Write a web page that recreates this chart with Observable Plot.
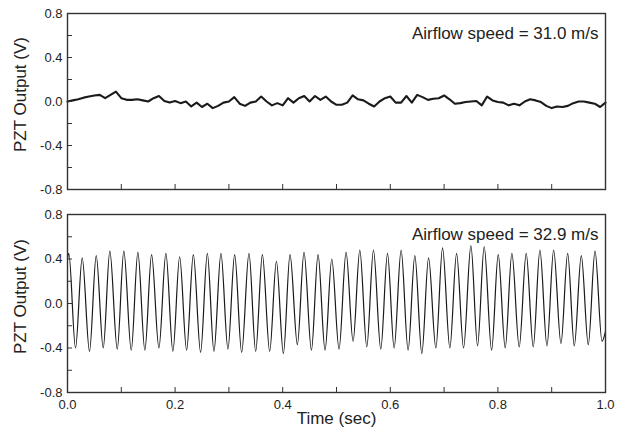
<!DOCTYPE html>
<html><head><meta charset="utf-8">
<script src="https://cdn.jsdelivr.net/npm/d3@7"></script>
<script src="https://cdn.jsdelivr.net/npm/@observablehq/plot@0.6"></script>
<style>body{margin:0;background:#fff;} #chart{width:620px;} svg{display:block;}</style>
</head><body><div id="chart"></div><script>
// ---- data ----
const topNote = "Airflow speed = 31.0 m/s";
const bottomNote = "Airflow speed = 32.9 m/s";
const yLabel = "PZT Output (V)";
const xLabel = "Time (sec)";
const xMajorTicks = [0, 0.2, 0.4, 0.6, 0.8, 1.0];
const xAllTicks = [0, 0.1, 0.2, 0.3, 0.4, 0.5, 0.6, 0.7, 0.8, 0.9, 1.0];
const yMajorTicks = [-0.8, -0.4, 0, 0.4, 0.8];
const yAllTicks = [-0.8, -0.6, -0.4, -0.2, 0, 0.2, 0.4, 0.6, 0.8];

// top panel (31.0 m/s): sampled every 0.01 s
const topInterval = 0.01;
const topVolt = [
  0.00, 0.01, 0.02, 0.035, 0.045, 0.055, 0.06, 0.03, 0.06, 0.09,
  0.03, 0.015, 0.015, 0.02, 0.01, 0.0, 0.03, 0.05, 0.005, -0.01,
  0.005, -0.015, 0.0, -0.045, -0.01, -0.05, -0.02, -0.06, -0.04, -0.01,
  0.0, 0.04, -0.02, -0.04, -0.01, 0.0, 0.045, 0.0, -0.035, -0.015,
  -0.035, 0.03, -0.01, 0.03, 0.05, 0.0, 0.05, 0.015, 0.045, 0.0,
  -0.03, -0.03, -0.01, 0.055, 0.02, 0.01, -0.02, -0.045, 0.0, 0.03,
  0.045, -0.01, -0.01, 0.05, -0.01, 0.06, 0.04, 0.015, 0.025, 0.03,
  0.055, 0.02, -0.02, -0.015, -0.005, 0.0, 0.005, -0.035, 0.045, 0.01,
  -0.005, -0.01, -0.035, -0.02, -0.035, 0.0, 0.02, 0.01, -0.005, -0.04,
  -0.06, -0.045, -0.05, -0.04, -0.015, 0.0, 0.0, -0.01, -0.02, -0.05,
  -0.01
];

// bottom panel (32.9 m/s): successive peaks and troughs
const waveTime = [
  0, 0.0024, 0.0149, 0.0273, 0.0409, 0.0534, 0.0664, 0.0787, 0.0925, 0.1047, 0.1185,
  0.1308, 0.1438, 0.1563, 0.1699, 0.1829, 0.1959, 0.2084, 0.2214, 0.2339, 0.2474,
  0.2599, 0.2722, 0.2852, 0.2982, 0.3107, 0.3237, 0.3373, 0.3498, 0.3622, 0.3758,
  0.3883, 0.4013, 0.4136, 0.4273, 0.4396, 0.4534, 0.4657, 0.4787, 0.4912, 0.5047,
  0.5178, 0.5308, 0.5433, 0.5563, 0.5687, 0.5823, 0.5948, 0.6071, 0.6201, 0.6331,
  0.6456, 0.6586, 0.6711, 0.6847, 0.6971, 0.7107, 0.7232, 0.7362, 0.7498, 0.7622,
  0.7745, 0.7883, 0.8006, 0.8136, 0.8260, 0.8396, 0.8526, 0.8657, 0.8781, 0.8912,
  0.9036, 0.9172, 0.9297, 0.9420, 0.9550, 0.9680, 0.9805, 0.9935, 1.0
];
const waveVolt = [
  0.40, 0.45, -0.40, 0.41, -0.43, 0.43, -0.40, 0.47, -0.41, 0.47, -0.42,
  0.46, -0.42, 0.44, -0.40, 0.45, -0.43, 0.42, -0.42, 0.44, -0.44,
  0.45, -0.43, 0.45, -0.41, 0.44, -0.44, 0.45, -0.43, 0.44, -0.43,
  0.38, -0.45, 0.44, -0.37, 0.46, -0.42, 0.44, -0.42, 0.40, -0.41,
  0.46, -0.34, 0.48, -0.39, 0.48, -0.41, 0.45, -0.40, 0.48, -0.42,
  0.43, -0.45, 0.41, -0.40, 0.50, -0.40, 0.45, -0.40, 0.52, -0.38,
  0.51, -0.42, 0.44, -0.40, 0.45, -0.39, 0.45, -0.39, 0.48, -0.38,
  0.48, -0.36, 0.45, -0.38, 0.43, -0.37, 0.47, -0.34, -0.25
];

// ---- build rows ----
const topRows = topVolt.map((v, i) => ({t: i * topInterval, v}));
const waveRows = waveTime.map((t, i) => ({t, v: waveVolt[i]}));

const font = "'Liberation Sans', Arial, Helvetica, sans-serif";
const fmt = d => d.toFixed(1);

function panel({rows, curve, strokeWidth, note, height, marginTop, marginBottom, bottom}) {
  const marks = [
    Plot.line(rows, {x: "t", y: "v", curve, stroke: "#1a1a1a", strokeWidth}),
    Plot.frame({stroke: "#333", strokeWidth: 1.4}),
    Plot.axisY({ticks: yAllTicks, tickSize: -5, text: null, label: null, stroke: "#333"}),
    Plot.axisY({ticks: yMajorTicks, tickSize: 0, tickPadding: 5, tickFormat: fmt, label: null, fontSize: 13, fill: "#222"}),
    Plot.axisX({ticks: xAllTicks, tickSize: -5, text: null, label: null, stroke: "#333"}),
    Plot.text([yLabel], {frameAnchor: "left", textAnchor: "middle", lineAnchor: "middle", rotate: -90, dx: -47, dy: -7, fontSize: 17, fill: "#222"}),
    Plot.text([note], {frameAnchor: "top-right", textAnchor: "end", dx: -7, dy: 13, fontSize: 17, fill: "#222"})
  ];
  if (bottom) {
    marks.push(Plot.axisX({ticks: xMajorTicks, tickSize: 0, tickPadding: 7, tickFormat: fmt, label: null, fontSize: 13, fill: "#222"}));
    marks.push(Plot.text([xLabel], {frameAnchor: "bottom", dy: 31, fontSize: 17, fill: "#222"}));
  }
  return Plot.plot({
    width: 620, height,
    marginLeft: 67, marginRight: 15, marginTop, marginBottom,
    style: {fontFamily: font, fontSize: "13px", background: "#fff", color: "#222"},
    x: {domain: [0, 1]},
    y: {domain: [-0.8, 0.8]},
    marks
  });
}

const chart = document.getElementById("chart");
chart.appendChild(panel({rows: topRows, curve: "linear", strokeWidth: 2.1, note: topNote, height: 200, marginTop: 13, marginBottom: 11, bottom: false}));
chart.appendChild(panel({rows: waveRows, curve: "monotone-x", strokeWidth: 1.2, note: bottomNote, height: 233, marginTop: 14, marginBottom: 41, bottom: true}));
</script></body></html>
